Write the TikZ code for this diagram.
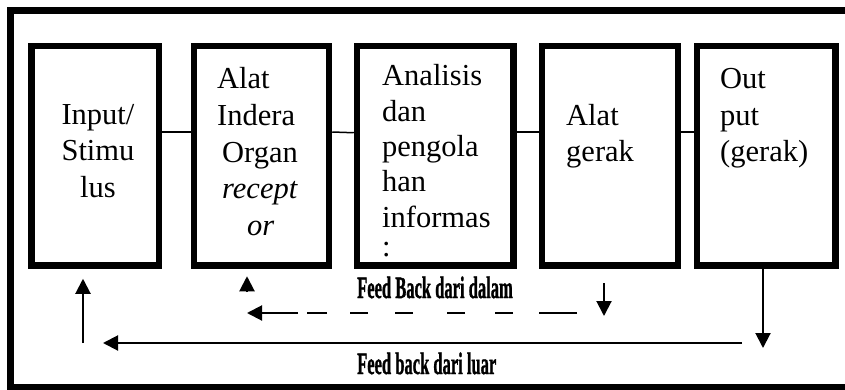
\documentclass[tikz,border=0pt]{standalone}
\usepackage{fontspec}
\setmainfont{Liberation Serif}
\newfontfamily\tebal[FakeBold=1.5]{Liberation Serif}
\usepackage{graphicx}
\usetikzlibrary{arrows.meta}
\begin{document}
\begin{tikzpicture}[x=1pt, y=-1pt,
  blok/.style={draw, line width=6.5pt, minimum height=219.5pt, inner sep=0pt},
  isi/.style={inner sep=0pt, anchor=base west, align=left, font=\fontsize{30.5}{36.5}\selectfont},
  garis/.style={line width=1.5pt},
  panah/.style={line width=2pt, -{Triangle[length=15pt,width=15pt]}},
  ket/.style={inner sep=0pt, anchor=base west, font=\fontsize{31}{32}\selectfont\tebal\bfseries}]
\useasboundingbox (0,0) rectangle (845,390);
\draw [line width=7pt] (845,10.5) -- (10.5,10.5) -- (10.5,387.5) -- (845,387.5);
\node [blok, minimum width=127.5pt] (input) at (95.25,155.75) {};
\node [blok, minimum width=135pt] (indera) at (261.5,155.75) {};
\node [blok, minimum width=156.5pt] (analisis) at (435.25,155.75) {};
\node [blok, minimum width=136pt] (gerak) at (610,155.75) {};
\node [blok, minimum width=138.5pt] (output) at (766.25,155.75) {};
\node [isi, align=center, anchor=base] (tinput) at (98,197) {Input/\\Stimu\\lus};
\node [isi] (tindera) at (217,235) {Alat\\Indera\\\hspace*{5pt}Organ\\\hspace*{5pt}\textit{recept}\\\hspace*{30pt}\textit{or}};
\node [isi, font=\fontsize{30.5}{35.3}\selectfont] (tanalisis) at (382,256) {Analisis\\dan\\pengola\\han\\informas\\[-6.3pt]:};
\node [isi] (tgerak) at (566,162) {Alat\\gerak};
\node [isi] (toutput) at (720,162) {Out\\put\\(gerak)};
\draw [garis] ([yshift=23.75pt]input.east) -- ([yshift=23.75pt]indera.west);
\draw [garis] ([yshift=23.75pt]indera.east) -- ([yshift=23pt]analisis.west);
\draw [garis] ([yshift=23.75pt]analisis.east) -- ([yshift=23.75pt]gerak.west);
\draw [garis] ([yshift=23.75pt]gerak.east) -- ([yshift=23.75pt]output.west);
\coordinate (keluar) at (763,348);
\coordinate (luar1) at (742,343);
\coordinate (luar2) at (103,343);
\coordinate (naik1) at (83,343);
\coordinate (dalam1) at (604,283);
\coordinate (dalam2) at (604,316);
\coordinate (dalam3) at (577,313);
\coordinate (dalam4) at (247,313);
\coordinate (naik2) at (247,292);
\draw [panah] ([xshift=-3.25pt]output.south) -- (keluar);
\draw [panah] (luar1) -- (luar2);
\draw [panah] (naik1) -- ([xshift=-12.25pt,yshift=-10pt]input.south);
\draw [panah] (dalam1) -- (dalam2);
\draw [panah, dash pattern=on 38pt off 26pt on 18pt off 30pt on 18pt off 34pt on 18pt off 27pt on 18pt off 23pt on 20pt off 9pt on 80pt] (dalam3) -- (dalam4);
\draw [panah] (naik2) -- ([xshift=-14.5pt,yshift=-7.5pt]indera.south);
\node [ket] (fbdalam) at (357,298) {\scalebox{0.533}[1]{Feed Back dari dalam}};
\node [ket] (fbluar) at (357,374) {\scalebox{0.533}[1]{Feed back dari luar}};
\end{tikzpicture}
\end{document}
